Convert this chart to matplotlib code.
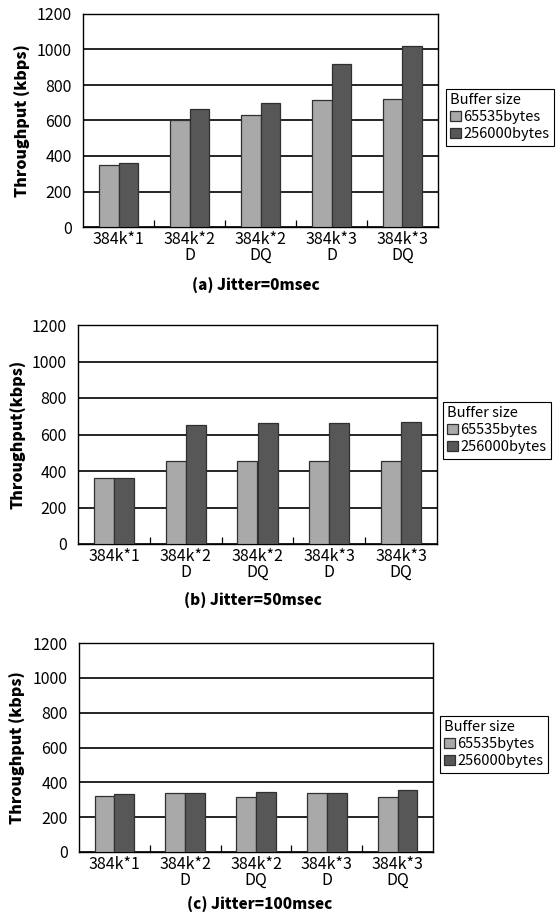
import numpy as np
import matplotlib
matplotlib.use("Agg")
import matplotlib.pyplot as plt

plt.rcParams['font.family'] = ['Noto Sans CJK JP', 'DejaVu Sans']

# ---------------------------------------------------------
# Throughput data (kbps) for each jitter setting
# ---------------------------------------------------------
categories = ["384k*1", "384k*2\nD", "384k*2\nDQ", "384k*3\nD", "384k*3\nDQ"]
buffers = ["65535bytes", "256000bytes"]

jitter0_small = [350, 600, 630, 715, 720]
jitter0_large = [362, 665, 700, 920, 1020]

jitter50_small = [360, 455, 455, 455, 455]
jitter50_large = [360, 650, 665, 665, 668]

jitter100_small = [320, 340, 316, 340, 318]
jitter100_large = [335, 336, 344, 338, 356]

panels = [
    ("(a) Jitter=0msec", "Throughput (kbps)", jitter0_small, jitter0_large),
    ("(b) Jitter=50msec", "Throughput(kbps)", jitter50_small, jitter50_large),
    ("(c) Jitter=100msec", "Throughput (kbps)", jitter100_small, jitter100_large),
]

W, H = 558, 915
# axes boxes in pixels: left, top, right, bottom
boxes = [(83, 14, 438, 227), (78, 325, 437, 544), (79, 643, 433, 852)]
legend_xy = [(446, 89), (443, 402), (440, 716)]
caption_xy = [(256, 286), (253, 601), (260, 905)]
ylabel_x = [-0.146, -0.144, -0.151]

colors = ["#a9a9a9", "#575757"]
bar_w = 0.28

fig = plt.figure(figsize=(W / 100, H / 100), dpi=100)

for i, (caption, ylab, small, large) in enumerate(panels):
    l, t, r, b = boxes[i]
    ax = fig.add_axes([l / W, 1 - b / H, (r - l) / W, (b - t) / H])
    x = np.arange(len(categories))
    for j, vals in enumerate([small, large]):
        ax.bar(x + (j - 0.5) * bar_w, vals, bar_w, color=colors[j],
               edgecolor="#303030", linewidth=0.9, label=buffers[j], zorder=3)

    ax.set_xlim(-0.5, len(categories) - 0.5)
    ax.set_ylim(0, 1200)
    ax.set_yticks(np.arange(0, 1201, 200))
    ax.yaxis.grid(True, color="black", linewidth=1.2, zorder=0)
    ax.set_axisbelow(True)
    for s in ax.spines.values():
        s.set_linewidth(1.0)
        s.set_color("black")

    ax.set_xticks(x)
    ax.set_xticklabels(categories, fontsize=11.5, linespacing=0.9)
    ax.set_xticks(np.arange(0.5, len(categories) - 0.5, 1), minor=True)
    ax.tick_params(axis="x", which="major", length=0, pad=3)
    ax.tick_params(axis="x", which="minor", direction="in", length=5, width=0.9)
    ax.tick_params(axis="y", length=0, pad=8, labelsize=11.5)

    ax.set_ylabel(ylab, fontsize=11.5, fontweight="heavy")
    ax.yaxis.set_label_coords(ylabel_x[i], 0.5)

    lx, ly = legend_xy[i]
    leg = ax.legend(title="Buffer size", loc="upper left",
                    bbox_to_anchor=(lx / W, 1 - ly / H), bbox_transform=fig.transFigure,
                    fontsize=10.5, title_fontsize=10.5, alignment="left",
                    fancybox=False, edgecolor="black", framealpha=1,
                    handlelength=0.7, handleheight=0.7, handletextpad=0.2,
                    borderpad=0.3, labelspacing=0.2, borderaxespad=0)
    leg.get_frame().set_linewidth(0.8)

    cx, cy = caption_xy[i]
    fig.text(cx / W, 1 - cy / H, caption, ha="center", va="center",
             fontsize=11, fontweight="heavy")

fig.savefig("out.png", dpi=100)
